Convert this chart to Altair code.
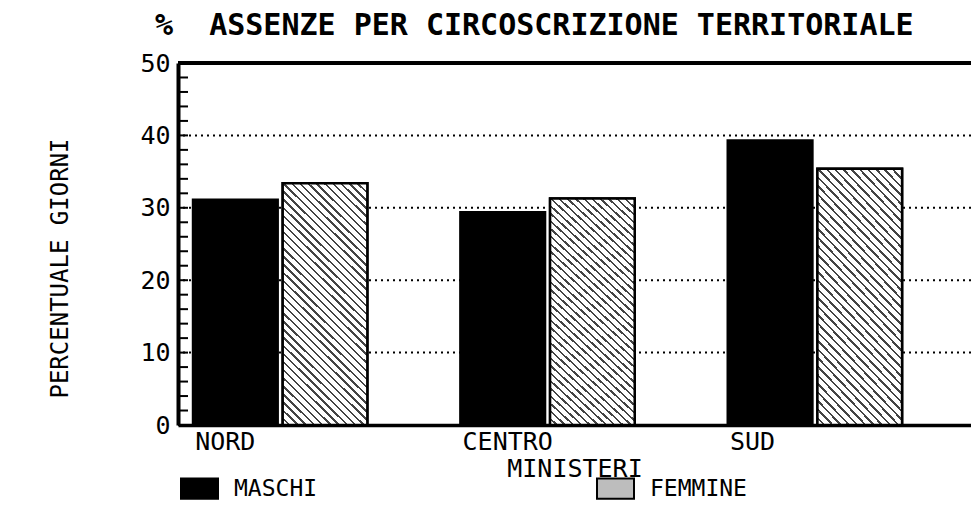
import altair as alt
import pandas as pd

# ---- data ----
areas = ["NORD", "CENTRO", "SUD"]
sexes = ["MASCHI", "FEMMINE"]
maschi = [31.1, 29.4, 39.3]
femmine = [33.4, 31.3, 35.4]
y_label_values = [0, 10, 20, 30, 40, 50]
grid_values = [10, 20, 30, 40]
top_value = [50]
minor_ticks = [0, 2, 4, 6, 8, 10, 12, 14, 16, 18, 20, 22, 24, 26, 28, 30,
               32, 34, 36, 38, 40, 42, 44, 46, 48, 50]

rows = []
for a, m, f in zip(areas, maschi, femmine):
    rows.append({"area": a, "sesso": "MASCHI", "v": m})
    rows.append({"area": a, "sesso": "FEMMINE", "v": f})
bars_df = pd.DataFrame(rows)

FONT = "DejaVu Sans Mono"

yscale = alt.Scale(domain=[0, 50], nice=False, zero=True)
yaxis = alt.Axis(
    values=y_label_values, title="PERCENTUALE GIORNI", grid=False,
    ticks=False, tickSize=0, domainColor="black", domainWidth=4,
    labelFont=FONT, labelFontSize=25, labelColor="black", labelPadding=8,
    titleFont=FONT, titleFontSize=24, titleFontWeight="normal", titleColor="black",
    titleAngle=270, titleX=-118, titleY=205, titleAlign="center",
    titleBaseline="middle",
)
Y = alt.Y("v:Q", scale=yscale, axis=yaxis)

xscale = alt.Scale(domain=areas, paddingInner=0.348, paddingOuter=0.157, align=0.179)
xaxis = alt.Axis(
    title="MINISTERI", labelAlign="left", labelOffset=-85, labelAngle=0,
    ticks=False, tickSize=0, labelPadding=24, labelBaseline="alphabetic",
    domainColor="black", domainWidth=3.5,
    labelFont=FONT, labelFontSize=25, labelColor="black",
    titleFont=FONT, titleFontSize=25, titleFontWeight="normal", titleColor="black",
    titleY=51, titleBaseline="alphabetic",
)
X = alt.X("area:N", sort=areas, scale=xscale, axis=xaxis)
XO = alt.XOffset("sesso:N", sort=sexes,
                 scale=alt.Scale(domain=sexes, paddingInner=0.056, paddingOuter=0))

# hatch pattern for the FEMMINE bars (diagonal stripes)
N = 40
stops = []
for i in range(N):
    stops.append({"offset": round(i / N, 5), "color": "white"})
    stops.append({"offset": round((i + 0.7) / N, 5), "color": "white"})
    stops.append({"offset": round((i + 0.7) / N, 5), "color": "#444444"})
    stops.append({"offset": round((i + 1) / N, 5), "color": "#444444"})
hatch = {"gradient": "linear", "x1": 0, "y1": 1, "x2": 0.414, "y2": -0.2,
         "stops": stops}

legend_shape = "M-1,-0.55L1,-0.55L1,0.55L-1,0.55Z"

grid = alt.Chart(pd.DataFrame({"v": grid_values})).mark_rule(
    color="black", strokeWidth=2, strokeDash=[2, 4]
).encode(y=Y)

ticks = alt.Chart(pd.DataFrame({"v": minor_ticks})).mark_rule(
    color="black", strokeWidth=2
).encode(y=Y, x=alt.value(0), x2=alt.value(10))

top = alt.Chart(pd.DataFrame({"v": top_value})).mark_rule(
    color="black", strokeWidth=4
).encode(y=Y)

bars = alt.Chart(bars_df).mark_bar(stroke="black", strokeWidth=2.5).encode(
    x=X, xOffset=XO, y=Y,
    color=alt.Color(
        "sesso:N", sort=sexes,
        scale=alt.Scale(domain=sexes, range=["black", "#bdbdbd"]),
        legend=alt.Legend(
            title=None, orient="none", legendX=2, legendY=406,
            direction="horizontal", symbolType=legend_shape, symbolSize=1369,
            symbolStrokeColor="black", symbolStrokeWidth=2, symbolOpacity=1,
            labelFont=FONT, labelFontSize=23, labelColor="black",
            labelOffset=15, columnPadding=275,
        ),
    ),
)

bars_f = alt.Chart(bars_df).transform_filter(
    alt.datum.sesso == "FEMMINE"
).mark_bar(fill=hatch, stroke="black", strokeWidth=2.5).encode(
    x=X, xOffset=XO, y=Y,
)

chart = alt.layer(grid, ticks, bars, bars_f, top).properties(
    width=793, height=362,
    padding={"left": 170, "top": 55, "right": 0, "bottom": 75},
    autosize="none",
    title=alt.TitleParams(
        "%\u00a0\u00a0ASSENZE PER CIRCOSCRIZIONE TERRITORIALE",
        anchor="start", frame="group", dx=-23, dy=-6, font=FONT, fontSize=30,
        fontWeight="bold", color="black",
    ),
).configure_view(stroke=None)

chart.save("out.html", embed_options={"renderer": "svg", "actions": False})
